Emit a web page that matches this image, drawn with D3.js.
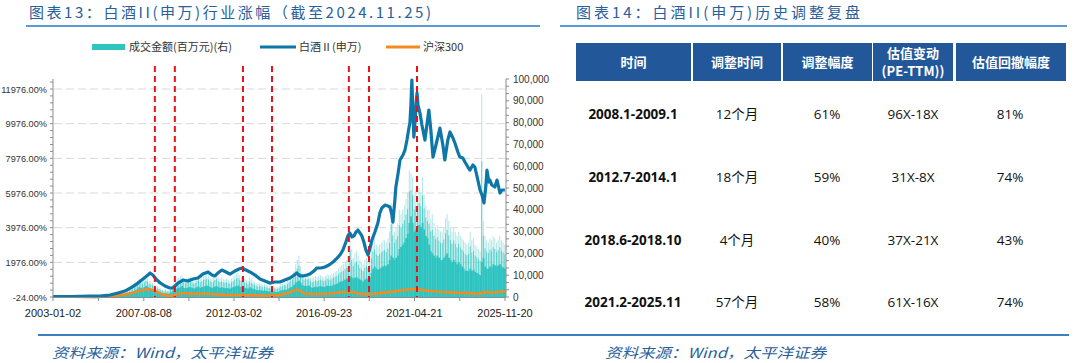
<!DOCTYPE html>
<html><head><meta charset="utf-8">
<script src="https://cdn.jsdelivr.net/npm/d3@7"></script>
<style>
html,body{margin:0;padding:0;background:#fff;}
svg{display:block;}
</style></head>
<body>
<svg id="c" width="1080" height="363"></svg>
<script>
// ---------- DATA ----------
const xTickLabels = ["2003-01-02","2007-08-08","2012-03-02","2016-09-23","2021-04-21","2025-11-20"];
const leftTicks = [-24, 1976, 3976, 5976, 7976, 9976, 11976];
const rightTicks = [0,10000,20000,30000,40000,50000,60000,70000,80000,90000,100000];
const seriesNames = ["成交金额(百万元)(右)", "白酒Ⅱ(申万)", "沪深300"];
const redLineDates = [2008.16, 2009.17, 2012.62, 2014.09, 2017.98, 2019.0, 2021.43];

// 白酒Ⅱ(申万) cumulative change, %  (time in decimal years)
const baijiuT = [2003.00,2003.86,2004.87,2005.38,2005.89,2006.29,2006.64,2007.00,2007.30,2007.56,2007.81,2007.91,2008.06,2008.21,2008.42,2008.67,2008.92,2009.07,2009.33,2009.58,2009.83,2010.09,2010.34,2010.59,2010.85,2011.05,2011.20,2011.35,2011.55,2011.76,2011.96,2012.21,2012.42,2012.57,2012.77,2012.97,2013.23,2013.48,2013.73,2013.98,2014.24,2014.49,2014.74,2015.00,2015.15,2015.35,2015.50,2015.66,2015.86,2016.01,2016.21,2016.36,2016.57,2016.77,2016.97,2017.18,2017.38,2017.53,2017.68,2017.83,2017.93,2018.03,2018.14,2018.24,2018.34,2018.44,2018.54,2018.64,2018.74,2018.84,2018.95,2019.05,2019.15,2019.30,2019.45,2019.55,2019.65,2019.81,2019.96,2020.06,2020.16,2020.21,2020.31,2020.36,2020.46,2020.57,2020.72,2020.82,2020.92,2021.02,2021.07,2021.12,2021.17,2021.22,2021.27,2021.32,2021.38,2021.43,2021.48,2021.58,2021.68,2021.83,2021.93,2022.03,2022.13,2022.24,2022.39,2022.59,2022.74,2022.84,2022.99,2023.10,2023.25,2023.35,2023.50,2023.60,2023.75,2023.86,2024.01,2024.11,2024.26,2024.36,2024.51,2024.62,2024.72,2024.82,2024.92,2024.97,2025.07,2025.12,2025.22,2025.37,2025.48,2025.63,2025.73,2025.88];
const baijiuV = [5,5,30,30,90,210,320,550,780,1015,1245,1360,1245,1015,800,610,495,495,780,955,900,1015,1070,1300,1420,1245,1190,1360,1530,1420,1300,1475,1590,1650,1530,1420,1245,1015,900,780,840,840,955,1070,1190,1360,1190,1190,1245,1300,1475,1650,1650,1710,1820,1995,2225,2400,2690,3150,3500,3670,3440,3500,3725,3840,3670,3500,3150,2690,2400,2800,3265,3725,4245,4820,5110,5280,5225,5170,4710,4300,5570,6320,7015,7880,8170,8455,9030,9725,10015,11050,12495,10765,9205,9900,11050,11745,11050,10590,9900,9030,9900,10765,9610,8050,8745,9725,8745,7880,9030,9495,9150,8860,8340,8050,7995,7765,7475,7300,7590,7475,6725,6150,5860,5400,6435,7300,6610,6725,6435,6320,6725,5975,6150,6150];

// 沪深300 cumulative change, %
const hs300T = [2003.0,2004.11,2005.13,2005.89,2006.64,2007.15,2007.56,2007.86,2008.16,2008.52,2008.82,2009.02,2009.33,2009.58,2009.93,2010.44,2010.95,2011.71,2012.47,2013.23,2013.98,2014.49,2015.00,2015.35,2015.50,2015.76,2016.26,2017.02,2017.53,2018.03,2018.54,2018.95,2019.55,2020.31,2021.07,2021.43,2021.83,2022.59,2023.35,2024.11,2024.62,2024.78,2025.02,2025.37,2025.88];
const hs300V = [0,-10,-30,20,120,250,380,430,320,120,50,60,150,210,170,180,150,100,90,80,60,90,250,400,330,170,150,170,250,280,170,130,200,300,420,430,350,280,230,200,160,270,230,250,300];

// 成交金额(百万元): monthly typical level and monthly spikes, 2003-01 .. 2025-11
const volBase = [
 300,300,250,300,350,300,250,250,300,300,250,300,
 350,400,450,400,350,300,300,300,350,300,300,300,
 250,250,300,250,250,300,300,300,350,300,300,350,
 400,500,600,700,900,1000,900,1000,1100,1400,1800,2200,
 2500,2800,3200,3800,4500,4200,3800,4500,5000,4800,4000,3800,
 3500,3000,2800,2600,2400,2000,1800,1600,1800,1500,1600,2000,
 2500,3000,3500,4000,4200,4500,5000,4200,4000,4200,4500,4500,
 4200,3800,4000,4500,4800,4200,4500,4800,5000,5200,5000,4500,
 4200,4500,4800,5000,4500,4200,4500,4200,4000,4200,4000,3800,
 4200,4500,4800,5000,5200,4800,4500,4600,4200,4000,3800,4500,
 4000,3800,3600,3200,3000,3200,3000,2800,3000,2800,2600,2500,
 2400,2500,2400,2200,2300,2600,3000,3000,3400,3200,3600,4000,
 4500,4800,5500,6500,7000,7500,6500,5500,5000,5200,5000,5200,
 4500,4200,4500,4800,4500,4800,5000,4800,4600,4800,5200,5000,
 5000,5200,5600,5800,6000,6500,7000,7200,7500,8000,8500,8200,
 9500,9000,8500,8800,9000,8500,8000,7500,7000,8000,8500,8000,
 9000,11000,13000,14000,13000,12500,13000,13500,14000,14500,14000,15000,
 17000,19000,18000,17000,18000,19000,22000,23000,24000,25000,27000,29000,
 34000,37000,34000,30000,31000,30000,33000,32000,34000,31000,28000,27000,
 24000,21000,20000,19000,18000,19000,18000,17000,17000,18000,19000,20000,
 18000,17000,16000,17000,16000,15000,16000,15000,14000,13000,12000,12000,
 12000,13000,12000,12500,11500,11000,10500,10000,16000,18000,14000,13000,
 13000,14000,13500,15000,14500,14000,14500,15000,14000,13500,13000];
const volPeak = [
 600,550,500,600,700,600,500,500,600,550,500,600,
 700,800,900,800,700,600,600,600,700,600,600,600,
 500,500,600,500,500,600,600,600,700,600,600,700,
 800,1000,1300,1500,1900,2200,1900,2100,2300,3000,3600,4200,
 5000,5500,6500,7500,8500,8000,7500,8500,9000,8500,7500,7000,
 6500,5500,5200,5000,4500,4000,3500,3200,3600,3000,3200,4200,
 5500,6500,7500,8500,9000,9500,10000,8500,8000,8500,9000,9500,
 8500,7500,8000,9000,9500,8500,9000,9800,10000,10500,10000,9000,
 8500,9000,9800,10500,9000,8500,9000,8500,8000,8500,8000,7500,
 8500,9000,10000,10800,11000,10000,9500,9500,8500,8000,7500,9000,
 8000,7500,7000,6500,6000,6500,6000,5500,6000,5500,5200,5000,
 5000,5200,5000,4500,4600,5200,6000,6000,7000,6500,7500,8500,
 9500,10000,12000,15000,17000,19000,14000,11000,10000,10500,10000,10500,
 9000,8500,9000,9500,9000,9500,10000,9500,9000,9500,10500,10000,
 10000,10500,11000,11500,12000,13000,14000,14500,15000,16000,17000,16500,
 29000,22000,18000,20000,21000,19000,17000,16000,15000,17000,18000,17000,
 18000,22000,26000,27000,24000,23000,24000,25000,26000,26000,25000,27000,
 30000,43000,35000,30000,32000,34000,40000,38000,40000,42000,45000,48000,
 58000,57000,55000,47000,49000,46000,50000,48000,55000,47000,42000,40000,
 40000,36000,38000,34000,32000,33000,31000,30000,30000,32000,36000,38000,
 35000,32000,30000,32000,30000,28000,30000,28000,27000,26000,25000,24000,
 25000,30000,26000,27000,24000,23000,22000,21000,93000,35000,28000,26000,
 25000,27000,26000,28000,27000,25000,26000,28000,26000,25000,24000];

// Table 14
const tableHeader = ["时间", "调整时间", "调整幅度", ["估值变动", "(PE-TTM))"], "估值回撤幅度"];
const tablePeriods = ["2008.1-2009.1", "2012.7-2014.1", "2018.6-2018.10", "2021.2-2025.11"];
const tableDuration = ["12个月", "18个月", "4个月", "57个月"];
const tableDrop = ["61%", "59%", "40%", "58%"];
const tablePE = ["96X-18X", "31X-8X", "37X-21X", "61X-16X"];
const tablePEDrop = ["81%", "74%", "43%", "74%"];

// ---------- DRAW ----------
const svg = d3.select("#c");
const CJK = "'Noto Sans CJK SC','Noto Sans',sans-serif";
const LAT = "'Liberation Sans',Arial,sans-serif";
const titleColor = "#27609C";

svg.append("rect").attr("width",1080).attr("height",363).attr("fill","#fff");

const decToDate = y => { const yr = Math.floor(y); const s = Date.UTC(yr,0,1), e = Date.UTC(yr+1,0,1); return new Date(s + (y-yr)*(e-s)); };
const parse = d3.utcParse("%Y-%m-%d");

// titles
svg.append("text").attr("x",29).attr("y",18).attr("font-family",CJK).attr("font-size",15)
  .attr("fill",titleColor).attr("textLength",402).attr("lengthAdjust","spacing")
  .text("图表13：白酒II(申万)行业涨幅（截至2024.11.25)");
svg.append("text").attr("x",576).attr("y",18).attr("font-family",CJK).attr("font-size",15)
  .attr("fill",titleColor).attr("textLength",284).attr("lengthAdjust","spacing")
  .text("图表14：白酒II(申万)历史调整复盘");
svg.append("line").attr("x1",26).attr("x2",540).attr("y1",26).attr("y2",26).attr("stroke","#5B9BD5").attr("stroke-width",2);
svg.append("line").attr("x1",560).attr("x2",1067).attr("y1",26).attr("y2",26).attr("stroke","#5B9BD5").attr("stroke-width",2);

// footer
svg.append("line").attr("x1",38).attr("x2",1069).attr("y1",335).attr("y2",335).attr("stroke","#3D7FC1").attr("stroke-width",2);
[52, 605].forEach(x => {
  svg.append("text").attr("x",x).attr("y",358).attr("font-family",CJK).attr("font-size",14)
    .attr("font-style","italic").attr("fill",titleColor).attr("textLength",221).attr("lengthAdjust","spacingAndGlyphs")
    .text("资料来源：Wind，太平洋证券");
});

// scales
const x = d3.scaleUtc().domain([parse(xTickLabels[0]), parse(xTickLabels[xTickLabels.length-1])]).range([53,505]);
const yL = d3.scaleLinear().domain([-24, 11976]).range([297, 89]);
const yR = d3.scaleLinear().domain([0, 100000]).range([297, 79]);

// gridlines
svg.append("g").selectAll("line").data(leftTicks.slice(1)).join("line")
  .attr("x1",54).attr("x2",505).attr("y1",d=>yL(d)).attr("y2",d=>yL(d))
  .attr("stroke","#D9D9D9").attr("stroke-width",1).attr("stroke-dasharray","8,4");

// volume bars
const months = volBase.map((v,i)=>i);
const mDate = i => new Date(Date.UTC(2003, i, 1));
const gV = svg.append("g");
// light spikes (narrow)
gV.selectAll("rect.pk").data(months).join("rect").attr("class","pk")
  .attr("x", i => Math.max(53, x(mDate(i))) + 0.3)
  .attr("width", i => Math.max(0.6, (x(mDate(i+1)) - Math.max(53, x(mDate(i)))) * 0.6))
  .attr("y", i => yR(volPeak[i])).attr("height", i => yR(0) - yR(volPeak[i]))
  .attr("fill","#B2E8E6");
// solid body
gV.selectAll("rect.bs").data(months).join("rect").attr("class","bs")
  .attr("x", i => Math.max(53, x(mDate(i))))
  .attr("width", i => Math.max(0.6, x(mDate(i+1)) - Math.max(53, x(mDate(i))) + 0.2))
  .attr("y", i => yR(volBase[i])).attr("height", i => yR(0) - yR(volBase[i]))
  .attr("fill","#2EC4C0");
// medium spikes
gV.selectAll("line.sp").data(months).join("line").attr("class","sp")
  .attr("x1", i => x(mDate(i)) + 0.8).attr("x2", i => x(mDate(i)) + 0.8)
  .attr("y1", yR(0)).attr("y2", i => yR(volBase[i] + (volPeak[i]-volBase[i])*0.6))
  .attr("stroke","#2EC4C0").attr("stroke-width",0.8).attr("opacity",0.85);

// lines
const lineGen = (T,V,ys) => d3.line().x((d,i)=>x(decToDate(T[i]))).y((d,i)=>ys(V[i]))(T);
svg.append("path").attr("d", lineGen(hs300T, hs300V, yL)).attr("fill","none")
  .attr("stroke","#F58A1F").attr("stroke-width",2.6).attr("stroke-linejoin","round");
svg.append("path").attr("d", lineGen(baijiuT, baijiuV, yL)).attr("fill","none")
  .attr("stroke","#0F77A7").attr("stroke-width",3.2).attr("stroke-linejoin","round");

// red dashed lines
svg.append("g").selectAll("line").data(redLineDates).join("line")
  .attr("x1",d=>x(decToDate(d))).attr("x2",d=>x(decToDate(d)))
  .attr("y1",66).attr("y2",297)
  .attr("stroke","#E3151A").attr("stroke-width",2).attr("stroke-dasharray","6,4");

// axes
const axisColor = "#8C8C8C";
// left axis
const gL = svg.append("g").attr("transform","translate(53,0)");
gL.append("line").attr("y1",79).attr("y2",297).attr("stroke",axisColor);
gL.selectAll("line.mn").data(d3.range(-24, 12560, 400)).join("line").attr("class","mn")
  .attr("x1",-3).attr("x2",0).attr("y1",d=>yL(d)).attr("y2",d=>yL(d)).attr("stroke",axisColor);
gL.selectAll("text").data(leftTicks).join("text")
  .attr("x",-6).attr("y",d=>yL(d)+3.5).attr("text-anchor","end")
  .attr("font-family",LAT).attr("font-size",9.2).attr("fill","#333")
  .text(d=>d.toFixed(2)+"%");
// right axis
const gR = svg.append("g").attr("transform","translate(506,0)");
gR.append("line").attr("y1",79).attr("y2",297).attr("stroke",axisColor);
gR.selectAll("line.mn").data(d3.range(0, 100001, 10000/3)).join("line").attr("class","mn")
  .attr("x1",0).attr("x2",3).attr("y1",d=>yR(d)).attr("y2",d=>yR(d)).attr("stroke",axisColor);
gR.selectAll("text").data(rightTicks).join("text")
  .attr("x",7).attr("y",d=>yR(d)+3.5).attr("text-anchor","start")
  .attr("font-family",LAT).attr("font-size",10).attr("fill","#333")
  .text(d=>d3.format(",")(d));
// x axis
const labelDates = xTickLabels.map(parse);
const allTicks = [];
labelDates.forEach((d,i) => { allTicks.push(d); if (i < labelDates.length-1) allTicks.push(new Date((+d + +labelDates[i+1])/2)); });
const gX = svg.append("g");
gX.append("line").attr("x1",53).attr("x2",506).attr("y1",297.5).attr("y2",297.5).attr("stroke",axisColor);
gX.selectAll("line.tk").data(allTicks).join("line").attr("class","tk")
  .attr("x1",d=>x(d)).attr("x2",d=>x(d)).attr("y1",297).attr("y2",301).attr("stroke",axisColor);
gX.selectAll("text").data(xTickLabels).join("text")
  .attr("x",d=>x(parse(d))).attr("y",317).attr("text-anchor","middle")
  .attr("font-family",LAT).attr("font-size",11).attr("fill","#222")
  .text(d=>d);

// legend
const lg = svg.append("g").attr("font-family",CJK).attr("font-size",11).attr("fill","#333");
lg.append("rect").attr("x",92).attr("y",44).attr("width",33).attr("height",6).attr("fill","#2EC4C0");
lg.append("text").attr("x",129).attr("y",51).text(seriesNames[0]);
lg.append("line").attr("x1",260).attr("x2",296).attr("y1",47).attr("y2",47).attr("stroke","#0F77A7").attr("stroke-width",3);
lg.append("text").attr("x",299).attr("y",51).text(seriesNames[1]);
lg.append("line").attr("x1",386).attr("x2",420).attr("y1",47).attr("y2",47).attr("stroke","#F58A1F").attr("stroke-width",3);
lg.append("text").attr("x",423).attr("y",51).text(seriesNames[2]);

// table
const cols = [[576,691],[693,781],[783,872],[873,953],[956,1066]];
const tg = svg.append("g");
tg.selectAll("rect").data(cols).join("rect")
  .attr("x",d=>d[0]).attr("y",43).attr("width",d=>d[1]-d[0]).attr("height",38).attr("fill","#22589A");
tableHeader.forEach((h,i) => {
  const cx = (cols[i][0]+cols[i][1])/2;
  if (Array.isArray(h)) {
    h.forEach((s,j) => tg.append("text").attr("x",cx).attr("y",58+j*18).attr("text-anchor","middle")
      .attr("font-family",CJK).attr("font-size",13).attr("font-weight","bold").attr("fill","#fff").text(s));
  } else {
    tg.append("text").attr("x",cx).attr("y",66.5).attr("text-anchor","middle")
      .attr("font-family",CJK).attr("font-size",13).attr("font-weight","bold").attr("fill","#fff").text(h);
  }
});
const rowY = [114, 177, 240, 302];
const colCx = [633, 737, 827, 913, 1010];
const colsData = [tablePeriods, tableDuration, tableDrop, tablePE, tablePEDrop];
colsData.forEach((arr,c) => {
  tg.append("g").selectAll("text").data(arr).join("text")
    .attr("x",colCx[c]).attr("y",(d,i)=>rowY[i]+4.5).attr("text-anchor","middle")
    .attr("font-family", "'Open Sans',"+CJK)
    .attr("font-size",13.5).attr("font-weight", c===0 ? "bold" : "normal")
    .attr("fill", "#111").text(d=>d);
});
</script>
</body></html>
